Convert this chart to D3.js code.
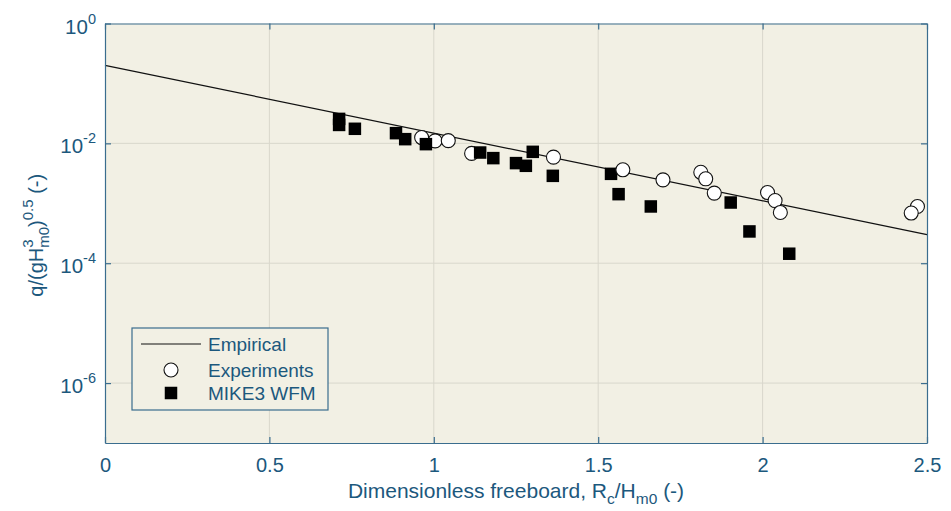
<!DOCTYPE html>
<html><head><meta charset="utf-8">
<script src="https://cdn.jsdelivr.net/npm/d3@7"></script>
<style>
body{margin:0;background:#fff;}
text{font-family:"Liberation Sans",Arial,sans-serif;}
</style></head>
<body>
<svg id="chart" width="951" height="511"></svg>
<script>
// ---- data ----
const xTicks = [0, 0.5, 1, 1.5, 2, 2.5];
const xTickLabels = ["0", "0.5", "1", "1.5", "2", "2.5"];
const yTicks = [1, 1e-2, 1e-4, 1e-6];
const yTickExps = ["0", "-2", "-4", "-6"];

const empiricalX = [0, 2.5];
const empiricalY = [0.2, 0.0003];

const expX = [0.963, 1.004, 1.044, 1.115, 1.364, 1.575, 1.697, 1.812, 1.827, 1.853, 2.015, 2.038, 2.054, 2.471, 2.452];
const expY = [0.0125, 0.0110, 0.0111, 0.0068, 0.00589, 0.00362, 0.00246, 0.00329, 0.00256, 0.00148, 0.00151, 0.00111, 0.000703, 0.000885, 0.000687];

const mikeX = [0.712, 0.712, 0.760, 0.885, 0.913, 0.976, 1.141, 1.181, 1.250, 1.280, 1.301, 1.362, 1.539, 1.562, 1.660, 1.903, 1.960, 2.081];
const mikeY = [0.0256, 0.0203, 0.0175, 0.0148, 0.01175, 0.0097, 0.00703, 0.00567, 0.00468, 0.00422, 0.00722, 0.00287, 0.0031, 0.00142, 0.000885, 0.00103, 0.000339, 0.000144];

const legendLabels = ["Empirical", "Experiments", "MIKE3 WFM"];

// ---- layout ----
const L = 105, R = 927, T = 23.5, B = 443;
const textColor = "#1c587d", axisColor = "#3a6d8e", bg = "#f2f0e4", gridColor = "#d9d7cc";

const svg = d3.select("#chart");
const x = d3.scaleLinear().domain([0, 2.5]).range([L, R]);
const y = d3.scaleLog().domain([1e-7, 1]).range([B, T]);

svg.append("rect").attr("x", L).attr("y", T).attr("width", R - L).attr("height", B - T).attr("fill", bg);

// grid
const g = svg.append("g");
g.selectAll(".gx").data(xTicks.slice(1, -1)).join("line")
  .attr("x1", d => x(d)).attr("x2", d => x(d)).attr("y1", T).attr("y2", B)
  .attr("stroke", gridColor).attr("stroke-width", 1);
g.selectAll(".gy").data(yTicks.slice(1)).join("line")
  .attr("x1", L).attr("x2", R).attr("y1", d => y(d)).attr("y2", d => y(d))
  .attr("stroke", gridColor).attr("stroke-width", 1);

// empirical line
const line = d3.line().x(d => x(d[0])).y(d => y(d[1]));
svg.append("path").datum(empiricalX.map((v, i) => [v, empiricalY[i]]))
  .attr("d", line).attr("fill", "none").attr("stroke", "#111").attr("stroke-width", 1.2);

const expPts = expX.map((v, i) => ({ x: v, y: expY[i] }));
const mikePts = mikeX.map((v, i) => ({ x: v, y: mikeY[i] }));
const sq = 12.5;

function drawCircles(pts) {
  svg.append("g").selectAll("circle").data(pts).join("circle")
    .attr("cx", d => x(d.x)).attr("cy", d => y(d.y)).attr("r", 7)
    .attr("fill", "#fff").attr("stroke", "#111").attr("stroke-width", 1.1);
}
drawCircles(expPts.filter(d => d.x < 1.3));
svg.append("g").selectAll("rect").data(mikePts).join("rect")
  .attr("x", d => x(d.x) - sq / 2).attr("y", d => y(d.y) - sq / 2)
  .attr("width", sq).attr("height", sq).attr("fill", "#000");
drawCircles(expPts.filter(d => d.x >= 1.3));

// axes (ticks inward, box)
const axB = d3.axisBottom(x).tickValues(xTicks).tickSizeInner(-6).tickSizeOuter(0).tickFormat((d, i) => xTickLabels[i]).tickPadding(15);
const axT = d3.axisTop(x).tickValues(xTicks).tickSizeInner(-6).tickSizeOuter(0).tickFormat("");
const axLft = d3.axisLeft(y).tickValues(yTicks).tickSizeInner(-6).tickSizeOuter(0).tickFormat("");
const axRt = d3.axisRight(y).tickValues(yTicks).tickSizeInner(-6).tickSizeOuter(0).tickFormat("");

function styleAxis(sel) {
  sel.selectAll("path").attr("stroke", axisColor).attr("stroke-width", 1.2);
  sel.selectAll("line").attr("stroke", axisColor).attr("stroke-width", 1.2);
  sel.selectAll("text").attr("fill", textColor).attr("font-size", 20).attr("font-family", "Liberation Sans, Arial, sans-serif");
}
svg.append("g").attr("transform", `translate(0,${B})`).call(axB).call(styleAxis);
svg.append("g").attr("transform", `translate(0,${T})`).call(axT).call(styleAxis);
svg.append("g").attr("transform", `translate(${L},0)`).call(axLft).call(styleAxis);
svg.append("g").attr("transform", `translate(${R},0)`).call(axRt).call(styleAxis);

// y tick labels with superscripts
const yl = svg.append("g");
yTicks.forEach((t, i) => {
  const tx = yl.append("text").attr("x", 96).attr("y", y(t) + 10).attr("text-anchor", "end")
    .attr("fill", textColor).attr("font-size", 20.5);
  tx.append("tspan").text("10");
  tx.append("tspan").attr("dy", -10).attr("font-size", 14.5).text(yTickExps[i]);
});

// x label
const xl = svg.append("text").attr("x", 516).attr("y", 498).attr("text-anchor", "middle")
  .attr("fill", textColor).attr("font-size", 21);
xl.append("tspan").text("Dimensionless freeboard, R");
xl.append("tspan").attr("dy", 6).attr("font-size", 15.5).text("c");
xl.append("tspan").attr("dy", -6).text("/H");
xl.append("tspan").attr("dy", 6).attr("font-size", 15.5).text("m0");
xl.append("tspan").attr("dy", -6).text(" (-)");

// y label
const ylab = svg.append("text").attr("transform", `translate(43,${(T + B) / 2 + 2}) rotate(-90)`)
  .attr("text-anchor", "middle").attr("fill", textColor).attr("font-size", 20);
ylab.append("tspan").text("q/(gH");
ylab.append("tspan").attr("dy", -10).attr("font-size", 15).text("3");
ylab.append("tspan").attr("dx", -8.4).attr("dy", 16).attr("font-size", 15).text("m0");
ylab.append("tspan").attr("dy", -6).text(")");
ylab.append("tspan").attr("dy", -10).attr("font-size", 15).text("0.5");
ylab.append("tspan").attr("dy", 10).text(" (-)");

// legend
const lg = svg.append("g");
lg.append("rect").attr("x", 132).attr("y", 328).attr("width", 196).attr("height", 82)
  .attr("fill", bg).attr("stroke", axisColor).attr("stroke-width", 1.2);
const rows = [344, 370, 393];
lg.append("line").attr("x1", 141).attr("x2", 201).attr("y1", rows[0]).attr("y2", rows[0])
  .attr("stroke", "#111").attr("stroke-width", 1.2);
lg.append("circle").attr("cx", 171).attr("cy", rows[1]).attr("r", 7)
  .attr("fill", "#fff").attr("stroke", "#111").attr("stroke-width", 1.1);
lg.append("rect").attr("x", 171 - sq / 2).attr("y", rows[2] - sq / 2).attr("width", sq).attr("height", sq).attr("fill", "#000");
legendLabels.forEach((s, i) => {
  lg.append("text").attr("x", 208).attr("y", rows[i] + 7).attr("fill", textColor).attr("font-size", 19).text(s);
});
</script>
</body></html>
